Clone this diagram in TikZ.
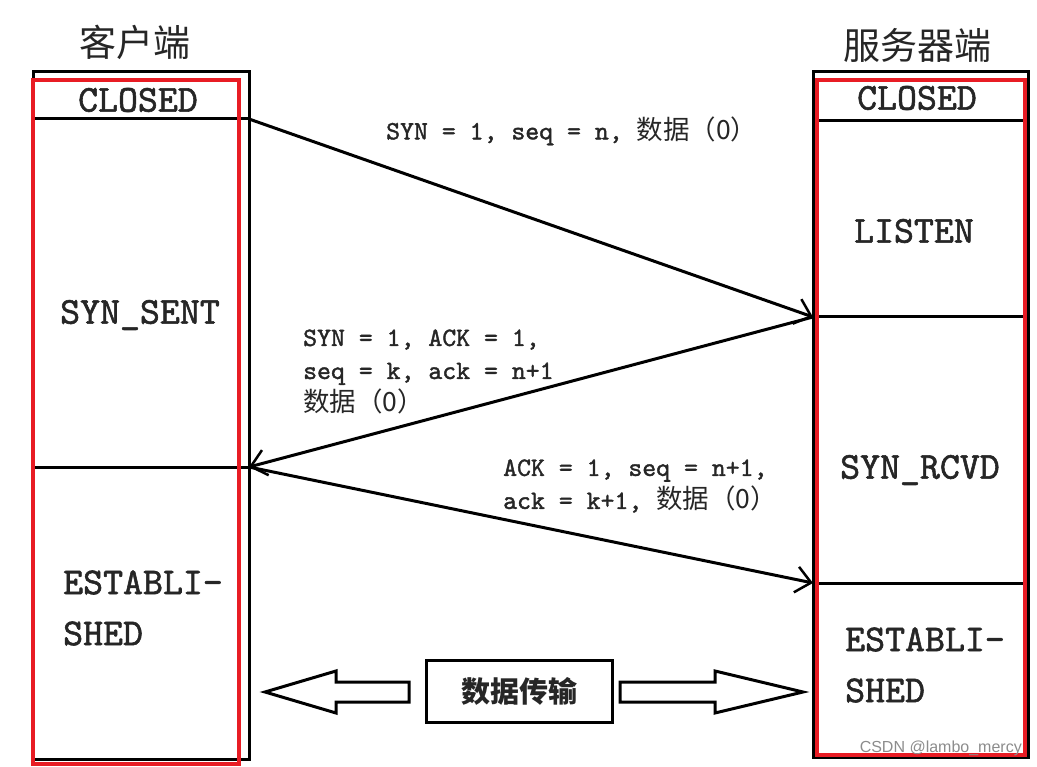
\documentclass[tikz,border=0pt]{standalone}
\usepackage{fontspec}
\newfontfamily\cjk{Noto Sans CJK SC}
\newfontfamily\wmfont{Liberation Sans}
\newfontfamily\monobold{lmmono10-regular.otf}[FakeBold=1.5]
\usetikzlibrary{arrows.meta}
\definecolor{boxred}{RGB}{232,28,36}
\tikzset{%
  frame/.style={draw=black,line width=3pt},
  redframe/.style={draw=boxred,line width=4pt},
  state/.style={font=\monobold\fontsize{38}{51}\selectfont,text=black!85,inner sep=0,align=left},
  title/.style={font=\cjk\fontsize{37}{40}\selectfont,text=black!85,inner sep=0},
  msg/.style={font=\monobold\fontsize{26.5}{33}\selectfont,text=black!85,inner sep=0,align=left,anchor=west},
  msgarrow/.style={draw,line width=3pt,-{Straight Barb[length=15pt,width=26pt,line width=2.5pt]}},
  hollow/.style={draw,line width=3pt,fill=white,line join=miter},
  datbox/.style={draw,line width=3pt,minimum width=186pt,minimum height=62pt,font=\cjk\bfseries\fontsize{29}{32}\selectfont,text=black!85}
}

\begin{document}
\begin{tikzpicture}[x=1pt,y=-1pt]
  \useasboundingbox (0,0) rectangle (1037,767);
  % client and server columns
  \draw[frame] (33,72) rectangle (249,759) (33,119) -- (249,119) (33,467) -- (249,467);
  \draw[frame] (813,72) rectangle (1028,757) (813,121) -- (1028,121) (813,317) -- (1028,317) (813,583) -- (1028,583);
  \path
    (135,42) node[title] (client) {客户端}
    (917,45) node[title] (server) {服务器端}
    (138,100) node[state] (cclosed) {CLOSED}
    (140,315) node[state] (csent) {SYN\_SENT}
    (63,608) node[state,anchor=west] (cest) {ESTABLI-\\SHED}
    (917,98) node[state] (sclosed) {CLOSED}
    (914,231) node[state] (slisten) {LISTEN}
    (920,470) node[state] (srcvd) {SYN\_RCVD}
    (845,665) node[state,anchor=west] (sest) {ESTABLI-\\SHED};
  \draw[redframe] (33,80) rectangle (239,764);
  \draw[redframe] (817,80) rectangle (1025,755);
  % handshake
  \coordinate (c0) at (249,119);
  \coordinate (s1) at (813,317);
  \coordinate (c1) at (249,467);
  \coordinate (s2) at (813,583);
  \draw[msgarrow] (c0) -- (s1);
  \draw[msgarrow] (s1) -- (c1);
  \draw[msgarrow] (c1) -- (s2);
  \node[msg] (syn) at (386,131) {SYN = 1, seq = n, \cjk{数据（}0\cjk{）}};
  \node[msg] (synack) at (303,372) {SYN = 1, ACK = 1,\\seq = k, ack = n+1\\\cjk{数据（}0\cjk{）}};
  \node[msg] (ack) at (503,486) {ACK = 1, seq = n+1,\\ack = k+1, \cjk{数据（}0\cjk{）}};
  % data transfer
  \node[datbox] (data) at (519,691) {数据传输};
  \draw[hollow] (409,682) -- (336,682) -- (336,671) -- (265,692) -- (336,713) -- (336,702) -- (409,702) -- cycle;
  \draw[hollow] (620,682) -- (715,682) -- (715,671) -- (803,692) -- (715,713) -- (715,702) -- (620,702) -- cycle;
  \node[font=\wmfont\fontsize{16}{20}\selectfont,text=black!45,anchor=east,inner sep=0] (mark) at (1022,748) {CSDN @lambo\_mercy};
\end{tikzpicture}
\end{document}
